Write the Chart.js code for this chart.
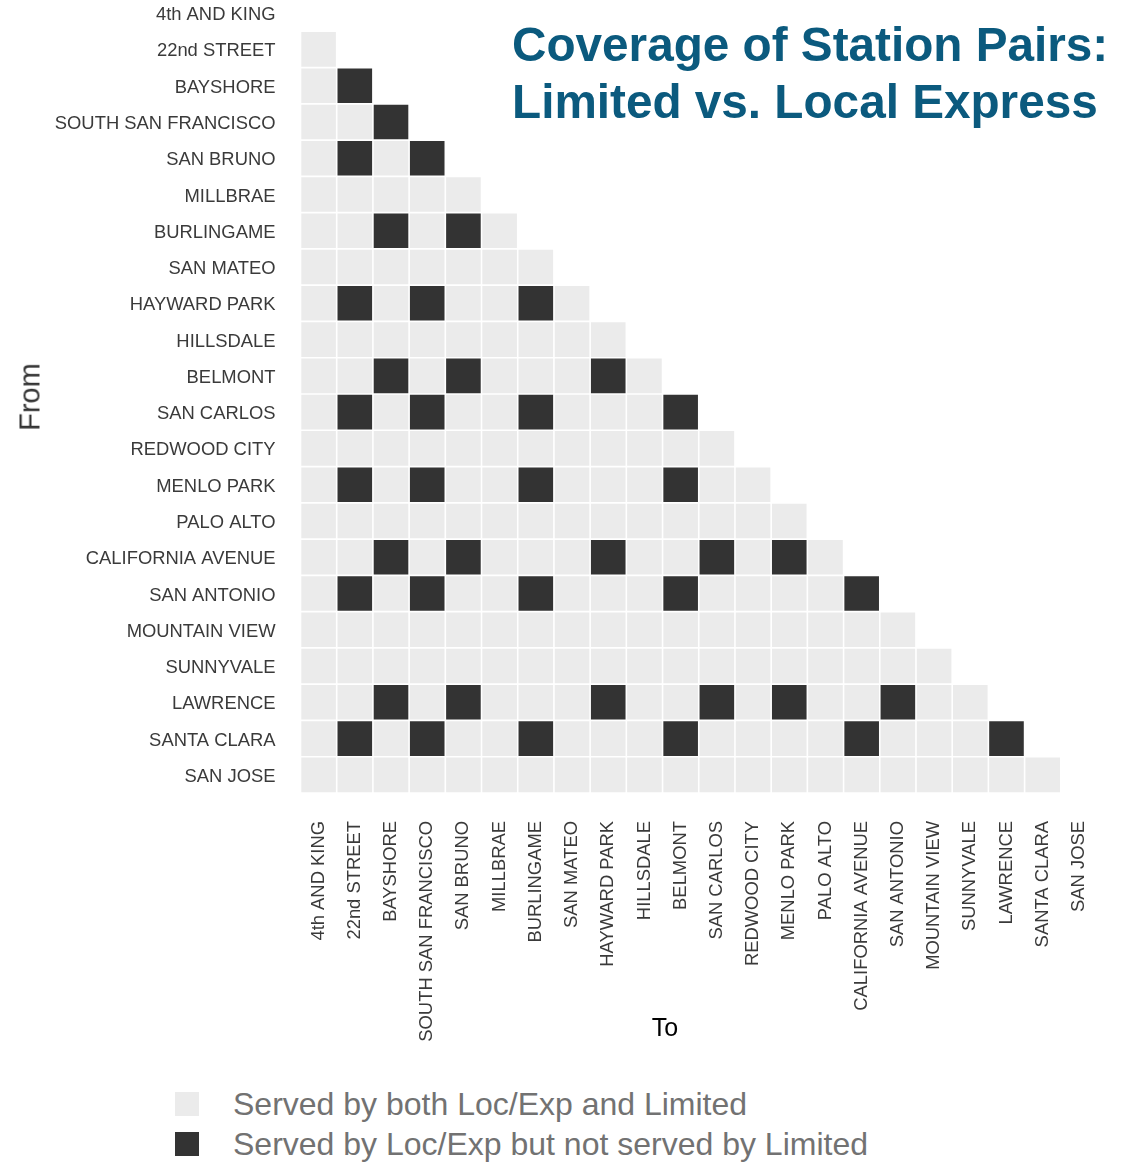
<!DOCTYPE html>
<html>
<head>
<meta charset="utf-8">
<script src="https://cdn.jsdelivr.net/npm/chart.js@4.4.0/dist/chart.umd.min.js"></script>
<style>
  html, body { margin: 0; padding: 0; background: #ffffff; }
  body { width: 1135px; height: 1162px; position: relative; overflow: hidden; font-family: "Liberation Sans", Arial, sans-serif; }
  #wrap { position: absolute; left: 0; top: -5px; width: 1135px; height: 1050px; }
  #title { position: absolute; left: 512px; top: 16px; font-weight: bold; font-size: 47.7px; line-height: 57px; color: #0b5a7e; white-space: nowrap; }
  .axis-title { position: absolute; white-space: nowrap; }
  #ytitle { left: 30px; top: 397px; font-size: 29px; color: #333333; transform: translate(-50%, -50%) rotate(-90deg); }
  #xtitle { left: 665px; top: 1027px; font-size: 25px; color: #000000; transform: translate(-50%, -50%); }
  .leg-box { position: absolute; left: 175px; width: 24px; height: 24px; }
  .leg-text { position: absolute; left: 233px; font-size: 32px; line-height: 40px; color: #727272; white-space: nowrap; }
</style>
</head>
<body>
<div id="wrap"><canvas id="c"></canvas></div>
<div id="title">Coverage of Station Pairs:<br>Limited vs. Local Express</div>
<div class="axis-title" id="ytitle">From</div>
<div class="axis-title" id="xtitle">To</div>
<div id="legend"></div>
<script>
// Stations in line order (used for both axes)
const stations = [
  "4th AND KING", "22nd STREET", "BAYSHORE", "SOUTH SAN FRANCISCO", "SAN BRUNO",
  "MILLBRAE", "BURLINGAME", "SAN MATEO", "HAYWARD PARK", "HILLSDALE", "BELMONT",
  "SAN CARLOS", "REDWOOD CITY", "MENLO PARK", "PALO ALTO", "CALIFORNIA AVENUE",
  "SAN ANTONIO", "MOUNTAIN VIEW", "SUNNYVALE", "LAWRENCE", "SANTA CLARA", "SAN JOSE"
];

// Coverage per "From" row; one character per "To" column (0 = both, 1 = Loc/Exp only)
const coverage = [
  "",
  "0",
  "01",
  "001",
  "0101",
  "00000",
  "001010",
  "0000000",
  "01010010",
  "000000000",
  "0010100010",
  "01010010001",
  "000000000000",
  "0101001000100",
  "00000000000000",
  "001010001001010",
  "0101001000100001",
  "00000000000000000",
  "000000000000000000",
  "0010100010010100100",
  "01010010001000010001",
  "000000000000000000000"
];

const categoryNames = [
  "Served by both Loc/Exp and Limited",
  "Served by Loc/Exp but not served by Limited"
];
const categoryColors = ["#ebebeb", "#333333"];

// Build the cell lists from the coverage table
const cells = [[], []];
coverage.forEach((row, i) => {
  row.split("").forEach((code, j) => {
    cells[Number(code)].push({ x: stations[j], y: stations[i] });
  });
});

function cellRadius(ctx) {
  const ch = ctx.chart;
  const xs = ch.scales.x, ys = ch.scales.y;
  if (!xs || !ys) return 0;
  const px = xs.width / stations.length;
  const py = ys.height / stations.length;
  return (Math.min(px, py) - 1.6) / Math.SQRT2;
}

const datasets = categoryNames.map((name, k) => ({
  label: name,
  data: cells[k],
  pointStyle: "rect",
  pointRadius: cellRadius,
  pointHoverRadius: cellRadius,
  pointBackgroundColor: categoryColors[k],
  pointBorderWidth: 0,
  pointHoverBorderWidth: 0,
  backgroundColor: categoryColors[k],
  borderWidth: 0
}));

const tickFont = { family: "'Liberation Sans', Arial, sans-serif", size: 18.4 };

new Chart(document.getElementById("c"), {
  type: "scatter",
  data: { datasets },
  options: {
    responsive: true,
    maintainAspectRatio: false,
    animation: false,
    layout: { padding: { left: 0, right: 38, top: 0, bottom: 0 } },
    plugins: { legend: { display: false }, tooltip: { enabled: false }, title: { display: false } },
    scales: {
      x: {
        type: "category",
        labels: stations,
        offset: true,
        grid: { display: false, drawTicks: false, tickLength: 0 },
        border: { display: false },
        ticks: {
          autoSkip: false, minRotation: 90, maxRotation: 90,
          padding: 28, color: "#3a3a3a", font: tickFont
        },
        afterFit(s) { s.height = 252; s.paddingLeft = 0; s.paddingRight = 0; }
      },
      y: {
        type: "category",
        labels: stations,
        offset: true,
        grid: { display: false, drawTicks: false, tickLength: 0 },
        border: { display: false },
        ticks: { autoSkip: false, padding: 25, labelOffset: 2, color: "#3a3a3a", font: tickFont },
        afterFit(s) { s.width = 300.5; s.paddingTop = 0; s.paddingBottom = 0; }
      }
    }
  }
});

// Legend (HTML) built from the same category arrays
const leg = document.getElementById("legend");
categoryNames.forEach((name, k) => {
  const box = document.createElement("div");
  box.className = "leg-box";
  box.style.top = (1092 + 40 * k) + "px";
  box.style.background = categoryColors[k];
  leg.appendChild(box);
  const t = document.createElement("div");
  t.className = "leg-text";
  t.style.top = (1084 + 40 * k) + "px";
  t.textContent = name;
  leg.appendChild(t);
});
</script>
</body>
</html>
